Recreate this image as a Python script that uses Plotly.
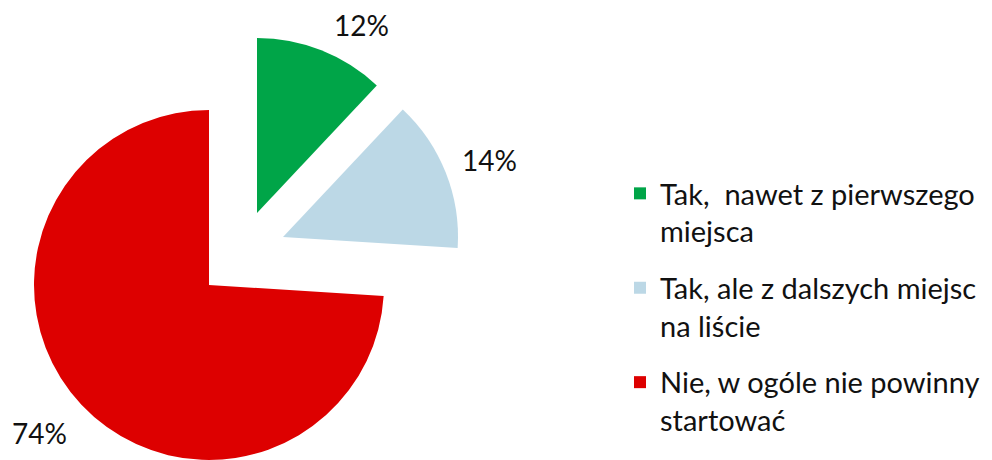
import plotly.graph_objects as go

# ---- data ----
categories = [
    "Tak,\u00a0 nawet z pierwszego<br>miejsca",
    "Tak, ale z dalszych miejsc<br>na liście",
    "Nie, w ogóle nie powinny<br>startować",
]
values = [12, 14, 74]
slice_colors = ["#00a548", "#bcd8e6", "#dd0000"]

# ---- layout constants (pixels, in screenshot coordinates) ----
W, H = 992, 460
OFF = 8  # default page body margin
R = 175
slice_centers = [(257, 213), (283, 237), (209, 285)]  # exploded apex of each slice
label_pos = [(361, 25), (489, 160), (39, 433)]
FONT = "Lato"


def px(x):
    return (x - OFF) / W


def py(y):
    return 1 - (y - OFF) / H


fig = go.Figure()

# one pie per slice so each slice can be exploded to its own place
for i, (cx, cy) in enumerate(slice_centers):
    cols = ["rgba(0,0,0,0)"] * len(values)
    cols[i] = slice_colors[i]
    fig.add_trace(go.Pie(
        labels=categories, values=values, sort=False,
        direction="clockwise", rotation=0,
        marker=dict(colors=cols, line=dict(width=0)),
        textinfo="none", hoverinfo="skip", showlegend=False,
        domain=dict(x=[px(cx - R), px(cx + R)],
                    y=[py(cy + R), py(cy - R)]),
    ))

# legend entries (tiny invisible pies, one per group)
for i, lab in enumerate(categories):
    fig.add_trace(go.Pie(
        labels=[lab], values=[values[i]], sort=False,
        marker=dict(colors=[slice_colors[i]]),
        textinfo="none", hoverinfo="skip", showlegend=True,
        legendgroup=f"g{i}",
        domain=dict(x=[0.0, 0.00005], y=[0.0, 0.00005]),
    ))

for v, (x, y) in zip(values, label_pos):
    fig.add_annotation(
        x=px(x), y=py(y), xref="paper", yref="paper",
        text=f"{v}%", showarrow=False, xanchor="center", yanchor="middle",
        font=dict(family=FONT, size=28, color="#111111"),
    )

fig.update_layout(
    width=W, height=H,
    margin=dict(l=0, r=0, t=0, b=0),
    paper_bgcolor="white", plot_bgcolor="white",
    font=dict(family=FONT, size=29, color="#111111"),
    legend=dict(
        x=px(620), y=py(168), xanchor="left", yanchor="top",
        valign="top", tracegroupgap=16, traceorder="grouped",
        bgcolor="rgba(0,0,0,0)",
        font=dict(family=FONT, size=29, color="#111111"),
    ),
)

fig.write_html("out.html")
